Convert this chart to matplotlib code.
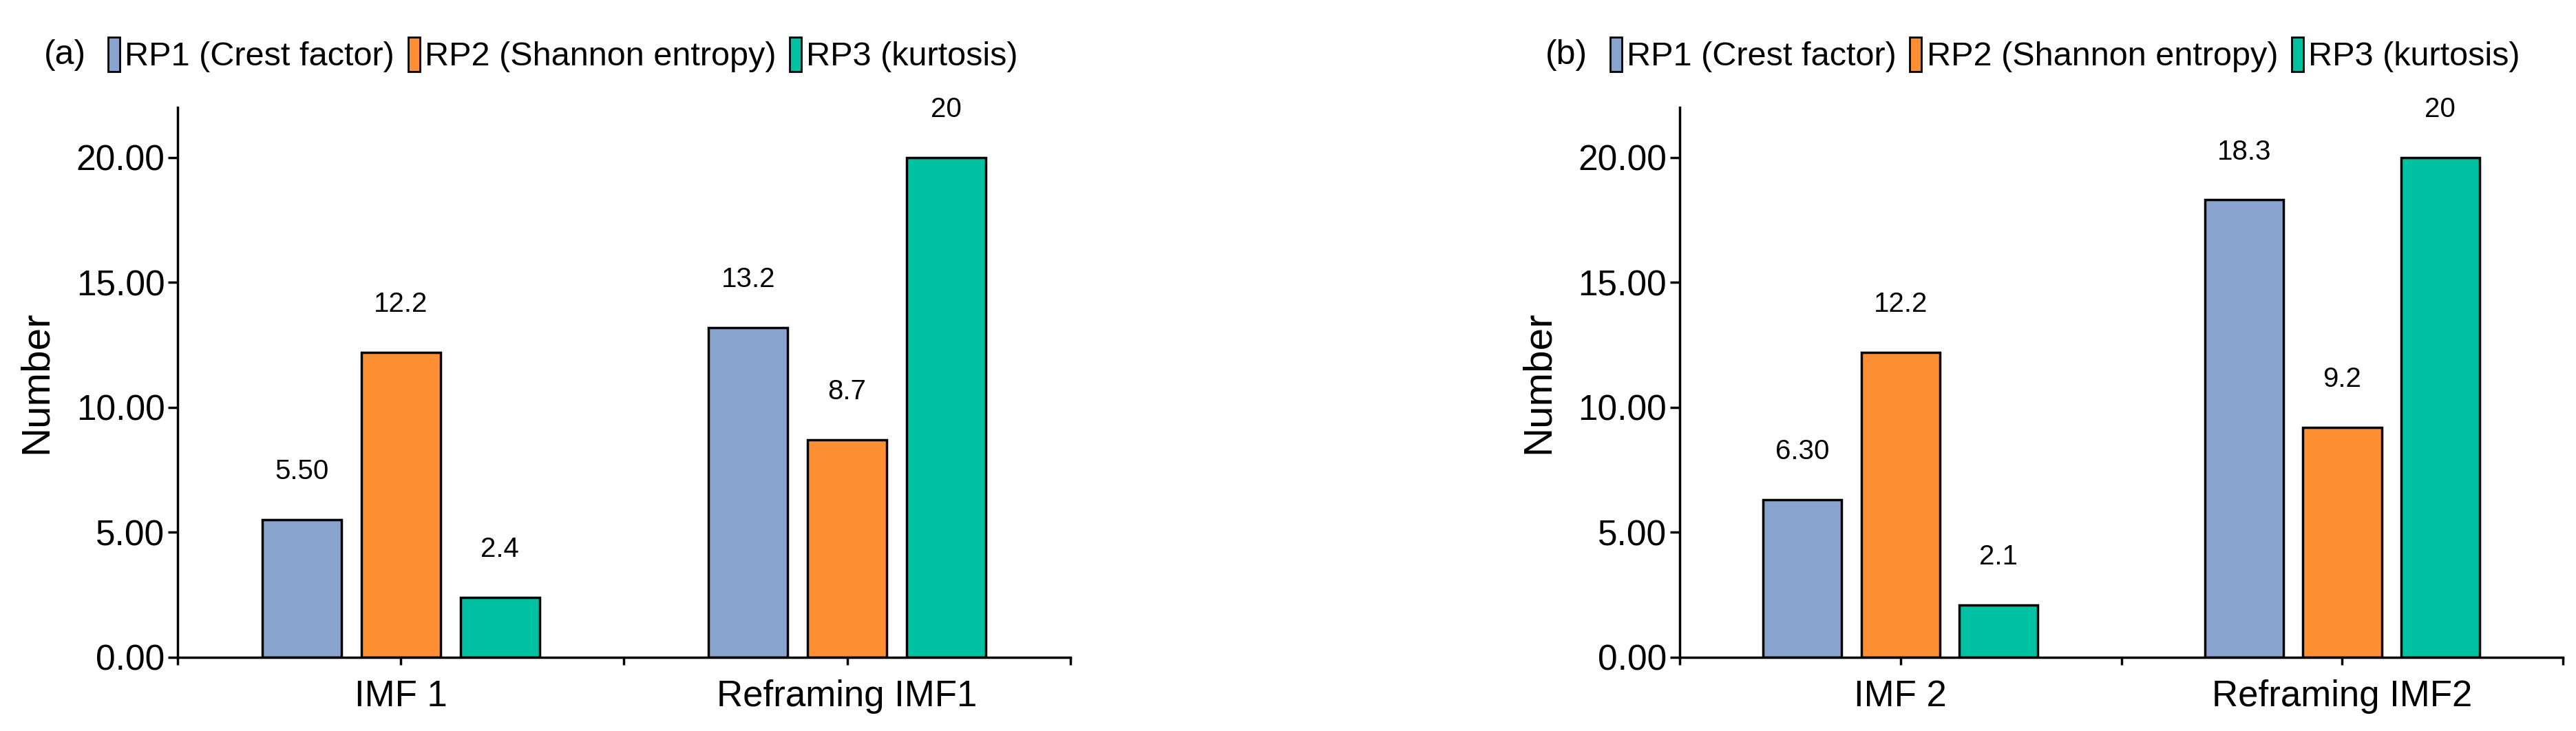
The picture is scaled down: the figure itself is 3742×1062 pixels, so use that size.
import numpy as np
import matplotlib.pyplot as plt
from matplotlib.patches import Patch

series = ['RP1 (Crest factor)', 'RP2 (Shannon entropy)', 'RP3 (kurtosis)']
colors = ['#87A3CE', '#FF8F33', '#00C2A3']

cats_a = ['IMF 1', 'Reframing IMF1']
vals_a = [[5.50, 13.2], [12.2, 8.7], [2.4, 20]]
labs_a = [['5.50', '13.2'], ['12.2', '8.7'], ['2.4', '20']]

cats_b = ['IMF 2', 'Reframing IMF2']
vals_b = [[6.30, 18.3], [12.2, 9.2], [2.1, 20]]
labs_b = [['6.30', '18.3'], ['12.2', '9.2'], ['2.1', '20']]

narrow = ['Liberation Sans Narrow', 'Liberation Sans', 'DejaVu Sans']
plt.rcParams['font.family'] = narrow

fig = plt.figure(figsize=(37.42, 10.62), dpi=100)

def panel(rect, cats, vals, labs):
    ax = fig.add_axes(rect)
    x = np.arange(len(cats))
    w, step = 0.178, 0.222
    for i in range(3):
        xs = x + (i - 1) * step
        ax.bar(xs, vals[i], w, color=colors[i], edgecolor='black', linewidth=2.5, zorder=2)
        for xx, v, l in zip(xs, vals[i], labs[i]):
            ax.text(xx, v + 1.4, l, ha='center', va='bottom', fontsize=29)
    ax.set_xlim(-0.5, len(cats) - 0.5)
    ax.set_ylim(0, 22)
    ax.set_yticks([0, 5, 10, 15, 20])
    ax.set_yticklabels(['%.2f' % t for t in [0, 5, 10, 15, 20]], fontsize=37)
    ax.set_xticks(np.arange(-0.5, len(cats), 0.5))
    ax.set_xticklabels([])
    for xx, c in zip(x, cats):
        ax.text(xx, -0.9, c, ha='center', va='top', fontsize=38)
    ax.tick_params(axis='both', direction='out', width=2.5, length=10)
    ax.tick_params(axis='x', length=8)
    for s in ['top', 'right']:
        ax.spines[s].set_visible(False)
    for s in ['left', 'bottom']:
        ax.spines[s].set_linewidth(2.5)
    ax.set_ylabel('Number', fontsize=42, family=['Liberation Sans', 'DejaVu Sans'], labelpad=22)
    return ax

ax1 = panel([0.069, 0.101, 0.3465, 0.752], cats_a, vals_a, labs_a)
ax2 = panel([0.652, 0.101, 0.343, 0.752], cats_b, vals_b, labs_b)

handles = [Patch(facecolor=c, edgecolor='black', linewidth=2) for c in colors]
for tag, tx, lx in [('(a)', 0.017, 0.042), ('(b)', 0.6, 0.625)]:
    fig.text(tx, 0.925, tag, fontsize=36, va='center')
    fig.legend(handles, series, loc='center left', bbox_to_anchor=(lx, 0.925), ncol=3,
               frameon=False, fontsize=35, handlelength=0.35, handleheight=1.2,
               handletextpad=0.15, columnspacing=0.4, borderpad=0, borderaxespad=0)

fig.savefig('out.png', dpi=100)
